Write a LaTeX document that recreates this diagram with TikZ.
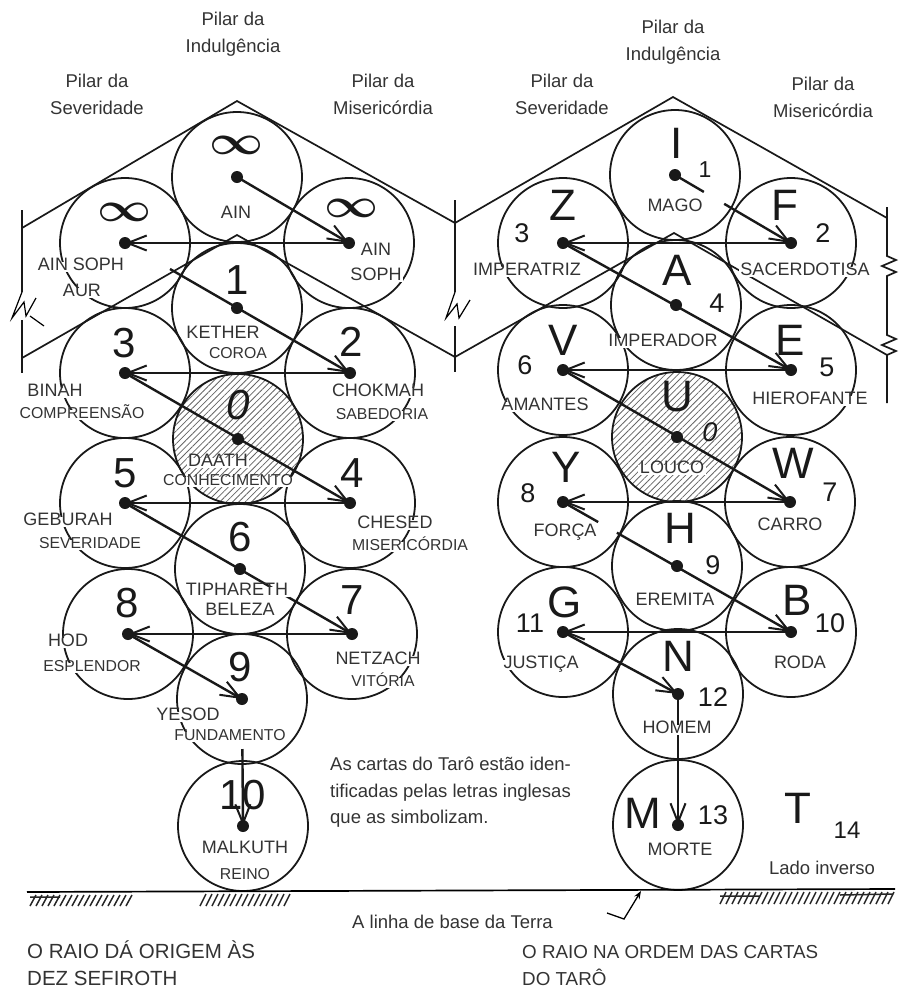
\documentclass[tikz,border=0pt]{standalone}
\usepackage{fontspec}
\setmainfont{Liberation Sans}
\usetikzlibrary{arrows.meta,patterns.meta}

\tikzset{
  sefira/.style={circle, draw=black!90, line width=1.8pt, minimum size=130pt, inner sep=0pt},
  veiled/.style={sefira, pattern={Lines[angle=45,distance=4.5pt,line width=0.8pt]}, pattern color=black!60},
  ray/.style={line width=2.4pt, draw=black!90, -{Straight Barb[length=19pt,width=15pt,line width=2pt]}},
  stub/.style={line width=2.4pt, draw=black!90},
  lattice/.style={line width=1.7pt, draw=black!90},
  sefname/.style={fill=white, inner sep=1.5pt, text=black!80, text height=0.72em, text depth=0pt, font=\fontsize{18}{18}\selectfont},
  meaning/.style={fill=white, inner sep=1.5pt, text=black!80, text height=0.72em, text depth=0pt, font=\fontsize{15.8}{15.8}\selectfont},
  bignum/.style={inner sep=0pt, text=black!90, font=\fontsize{42}{42}\selectfont},
  cardletter/.style={inner sep=0pt, text=black!90, font=\fontsize{44}{44}\selectfont},
  cardnum/.style={inner sep=0pt, text=black!90, font=\fontsize{27}{27}\selectfont},
  infinity/.style={inner sep=0pt, text=black!90},
  pilar/.style={align=center, inner sep=0pt, text=black!80, font=\fontsize{18.5}{27}\selectfont},
  note/.style={align=left, inner sep=0pt, text=black!80, font=\fontsize{18.5}{26.5}\selectfont},
  caption/.style={align=left, inner sep=0pt, text=black!80, font=\fontsize{20.5}{27}\selectfont},
  groundhatch/.style={line width=1.5pt, draw=black!85},
}
\newcommand{\infsign}{\scalebox{4.7}[4.1]{\boldmath$\infty$}}

\begin{document}
\begin{tikzpicture}[x=1pt, y=-1pt]
  \useasboundingbox (0,0) rectangle (899,989);

  % As dez sefiroth
  \node[sefira] (ain) at (237,177) {};
  \node[sefira] (ainsophaur) at (125,243) {};
  \node[sefira] (ainsoph) at (349,243) {};
  \node[sefira] (kether) at (237,308) {};
  \node[sefira] (binah) at (125,373) {};
  \node[sefira] (chokmah) at (350,373) {};
  \node[veiled] (daath) at (238,439) {};
  \node[sefira] (geburah) at (125,503) {};
  \node[sefira] (chesed) at (350,503) {};
  \node[sefira] (tiphareth) at (240,569) {};
  \node[sefira] (hod) at (128,634) {};
  \node[sefira] (netzach) at (352,634) {};
  \node[sefira] (yesod) at (242,699) {};
  \node[sefira] (malkuth) at (243,826) {};

  % As cartas do taro
  \node[sefira] (mago) at (675,175) {};
  \node[sefira] (imperatriz) at (563,243) {};
  \node[sefira] (sacerdotisa) at (791,243) {};
  \node[sefira] (imperador) at (676,305) {};
  \node[sefira] (amantes) at (563,370) {};
  \node[sefira] (hierofante) at (791,370) {};
  \node[veiled] (louco) at (677,437) {};
  \node[sefira] (forca) at (563,502) {};
  \node[sefira] (carro) at (790,502) {};
  \node[sefira] (eremita) at (677,566) {};
  \node[sefira] (justica) at (563,632) {};
  \node[sefira] (roda) at (791,632) {};
  \node[sefira] (homem) at (678,694) {};
  \node[sefira] (morte) at (678,825) {};

  % Pilares
  \draw[lattice] (22,228) -- (237,101) -- (455,223) -- (673,97) -- (887,218);
  \draw[lattice] (22,358) -- (237,235) -- (455,357) -- (674,233) -- (887,355);
  \draw[lattice] (22,210) -- (22,292) (22,320) -- (22,373);
  \draw[line width=1.2pt] (22,292) -- (12,318) -- (24,302) -- (26,316) -- (36,298);
  \draw[line width=1.2pt] (30,316) -- (44,326);
  \draw[lattice] (455,200) -- (455,292) (455,326) -- (455,372);
  \draw[line width=1.2pt] (455,292) -- (446,318) -- (457,304) -- (459,318) -- (470,300);
  \draw[lattice] (887,207) -- (887,256) -- (896,260) -- (882,266) -- (896,272) -- (887,276)
    -- (887,335) -- (896,339) -- (882,345) -- (896,351) -- (887,355) -- (887,403);

  % O raio, arvore da esquerda
  \draw[ray] (ain.center) -- (ainsoph.center);
  \draw[ray] (ainsoph.center) -- (ainsophaur.center);
  \draw[ray, shorten <=52pt] (ainsophaur.center) -- (chokmah.center);
  \draw[ray] (chokmah.center) -- (binah.center);
  \draw[ray] (binah.center) -- (chesed.center);
  \draw[ray] (chesed.center) -- (geburah.center);
  \draw[ray] (geburah.center) -- (netzach.center);
  \draw[ray] (netzach.center) -- (hod.center);
  \draw[ray] (hod.center) -- (yesod.center);
  \draw[ray, shorten <=50pt] (yesod.center) -- (malkuth.center);

  % O raio, arvore da direita
  \draw[stub, shorten >=101pt] (mago.center) -- (sacerdotisa.center);
  \draw[ray, shorten <=57pt] (mago.center) -- (sacerdotisa.center);
  \draw[ray] (sacerdotisa.center) -- (imperatriz.center);
  \draw[ray] (imperatriz.center) -- (hierofante.center);
  \draw[ray] (hierofante.center) -- (amantes.center);
  \draw[ray] (amantes.center) -- (carro.center);
  \draw[ray] (carro.center) -- (forca.center);
  \draw[stub, shorten >=222pt] (forca.center) -- (roda.center);
  \draw[ray, shorten <=62pt] (forca.center) -- (roda.center);
  \draw[ray] (roda.center) -- (justica.center);
  \draw[ray] (justica.center) -- (homem.center);
  \draw[ray] (homem.center) -- (morte.center);

  % Nomes das sefiroth
  \node[infinity] (ain-d) at (237,145) {\infsign};
  \node[sefname] (ain-n) at (236,215) {AIN};
  \node[infinity] (ainsophaur-d) at (125,212) {\infsign};
  \node[sefname] (ainsophaur-n) at (81,267) {AIN SOPH};
  \node[sefname] (ainsophaur-a) at (82,293) {AUR};
  \node[infinity] (ainsoph-d) at (352,208) {\infsign};
  \node[sefname] (ainsoph-n) at (376,252) {AIN};
  \node[sefname] (ainsoph-s) at (376,277) {SOPH};
  \node[bignum] (kether-d) at (237,280) {1};
  \node[sefname] (kether-n) at (223,335) {KETHER};
  \node[meaning] (kether-m) at (238,355) {COROA};
  \node[bignum] (binah-d) at (124,343) {3};
  \node[sefname] (binah-n) at (55,393) {BINAH};
  \node[meaning] (binah-m) at (82,415) {COMPREENSÃO};
  \node[bignum] (chokmah-d) at (351,342) {2};
  \node[sefname] (chokmah-n) at (378,393) {CHOKMAH};
  \node[meaning] (chokmah-m) at (382,416) {SABEDORIA};
  \node[bignum] (daath-d) at (238,405) {\itshape 0};
  \node[sefname] (daath-n) at (218,463) {DAATH};
  \node[meaning] (daath-m) at (228,482) {CONHECIMENTO};
  \node[bignum] (geburah-d) at (125,473) {5};
  \node[sefname] (geburah-n) at (68,522) {GEBURAH};
  \node[meaning] (geburah-m) at (90,545) {SEVERIDADE};
  \node[bignum] (chesed-d) at (352,473) {4};
  \node[sefname] (chesed-n) at (395,525) {CHESED};
  \node[meaning] (chesed-m) at (410,547) {MISERICÓRDIA};
  \node[bignum] (tiphareth-d) at (240,537) {6};
  \node[sefname] (tiphareth-n) at (237,592) {TIPHARETH};
  \node[sefname] (tiphareth-m) at (240,612) {BELEZA};
  \node[bignum] (hod-d) at (127,603) {8};
  \node[sefname] (hod-n) at (68,643) {HOD};
  \node[meaning] (hod-m) at (92,668) {ESPLENDOR};
  \node[bignum] (netzach-d) at (352,600) {7};
  \node[sefname] (netzach-n) at (378,661) {NETZACH};
  \node[meaning] (netzach-m) at (383,683) {VITÓRIA};
  \node[bignum] (yesod-d) at (240,667) {9};
  \node[sefname] (yesod-n) at (188,717) {YESOD};
  \node[meaning] (yesod-m) at (230,737) {FUNDAMENTO};
  \node[bignum] (malkuth-d) at (243,795) {10};
  \node[sefname] (malkuth-n) at (245,850) {MALKUTH};
  \node[meaning] (malkuth-m) at (245,876) {REINO};

  % Nomes das cartas
  \node[cardletter] (mago-l) at (677,143) {I};
  \node[cardnum, font=\fontsize{23}{23}\selectfont] (mago-d) at (705,170) {1};
  \node[sefname] (mago-n) at (675,208) {MAGO};
  \node[cardletter] (imperatriz-l) at (563,205) {Z};
  \node[cardnum] (imperatriz-d) at (522,233) {3};
  \node[sefname] (imperatriz-n) at (527,272) {IMPERATRIZ};
  \node[cardletter] (sacerdotisa-l) at (785,205) {F};
  \node[cardnum] (sacerdotisa-d) at (823,233) {2};
  \node[sefname] (sacerdotisa-n) at (805,272) {SACERDOTISA};
  \node[cardletter] (imperador-l) at (677,270) {A};
  \node[cardnum] (imperador-d) at (717,303) {4};
  \node[sefname] (imperador-n) at (663,343) {IMPERADOR};
  \node[cardletter] (amantes-l) at (563,340) {V};
  \node[cardnum] (amantes-d) at (525,365) {6};
  \node[sefname] (amantes-n) at (545,407) {AMANTES};
  \node[cardletter] (hierofante-l) at (790,340) {E};
  \node[cardnum] (hierofante-d) at (827,367) {5};
  \node[sefname] (hierofante-n) at (810,401) {HIEROFANTE};
  \node[cardletter] (louco-l) at (677,397) {U};
  \node[cardnum] (louco-d) at (710,432) {\itshape 0};
  \node[sefname] (louco-n) at (672,470) {LOUCO};
  \node[cardletter] (forca-l) at (566,467) {Y};
  \node[cardnum] (forca-d) at (528,493) {8};
  \node[sefname] (forca-n) at (565,533) {FORÇA};
  \node[cardletter] (carro-l) at (793,463) {W};
  \node[cardnum] (carro-d) at (830,492) {7};
  \node[sefname] (carro-n) at (790,527) {CARRO};
  \node[cardletter] (eremita-l) at (680,528) {H};
  \node[cardnum] (eremita-d) at (713,565) {9};
  \node[sefname] (eremita-n) at (675,602) {EREMITA};
  \node[cardletter] (justica-l) at (565,602) {G};
  \node[cardnum] (justica-d) at (530,623) {11};
  \node[sefname] (justica-n) at (541,665) {JUSTIÇA};
  \node[cardletter] (roda-l) at (797,600) {B};
  \node[cardnum] (roda-d) at (830,623) {10};
  \node[sefname] (roda-n) at (800,665) {RODA};
  \node[cardletter] (homem-l) at (678,656) {N};
  \node[cardnum] (homem-d) at (713,697) {12};
  \node[sefname] (homem-n) at (677,730) {HOMEM};
  \node[cardletter] (morte-l) at (643,813) {M};
  \node[cardnum] (morte-d) at (713,815) {13};
  \node[sefname] (morte-n) at (680,852) {MORTE};
  \node[cardletter] (lado-l) at (798,808) {T};
  \node[cardnum, font=\fontsize{24}{24}\selectfont] (lado-d) at (847,830) {14};
  \node[note, anchor=center] (lado-n) at (822,868) {Lado inverso};

  % Pontos
  \foreach \s in {ain,ainsoph,ainsophaur,kether,binah,chokmah,daath,geburah,chesed,
                  tiphareth,hod,netzach,yesod,malkuth,mago,imperatriz,sacerdotisa,
                  imperador,amantes,hierofante,louco,forca,carro,eremita,justica,
                  roda,homem,morte}
    \fill[black!90] (\s.center) circle (6pt);

  % Pilares, textos
  \node[pilar] (ind-l) at (233,34) {Pilar da\\Indulgência};
  \node[pilar] (sev-l) at (97,94) {Pilar da\\Severidade};
  \node[pilar] (mis-l) at (383,94) {Pilar da\\Misericórdia};
  \node[pilar] (ind-r) at (673,42) {Pilar da\\Indulgência};
  \node[pilar] (sev-r) at (562,94) {Pilar da\\Severidade};
  \node[pilar] (mis-r) at (823,97) {Pilar da\\Misericórdia};

  % Linha de base da Terra
  \draw[line width=1.7pt] (27,892) -- (895,889);
  \foreach \x in {30,36,...,126} \draw[groundhatch] (\x,906) -- ++(6,-11);
  \foreach \x in {200,206,...,286} \draw[groundhatch] (\x,906) -- ++(6,-12);
  \foreach \x in {720,726,...,890} \draw[groundhatch] (\x,904) -- ++(6,-12);
  \draw[groundhatch] (30,897) -- (60,897) (720,896) -- (760,896) (840,895) -- (893,894);
  \coordinate (base) at (641,891);
  \draw[line width=1.3pt, -{Stealth[length=8pt,width=6pt]}] (607,913) -- (624,919) -- (base);
  \node[note, anchor=west] (terra) at (352,922) {A linha de base da Terra};

  \node[note, anchor=north west] (tarot) at (330,757)
    {As cartas do Tarô estão iden-\\tificadas pelas letras inglesas\\que as simbolizam.};
  \node[caption, anchor=north west] (cap-l) at (27,941) {O RAIO DÁ ORIGEM ÀS\\DEZ SEFIROTH};
  \node[caption, anchor=north west, font=\fontsize{18.8}{27}\selectfont] (cap-r) at (522,945)
    {O RAIO NA ORDEM DAS CARTAS\\DO TARÔ};
\end{tikzpicture}
\end{document}
